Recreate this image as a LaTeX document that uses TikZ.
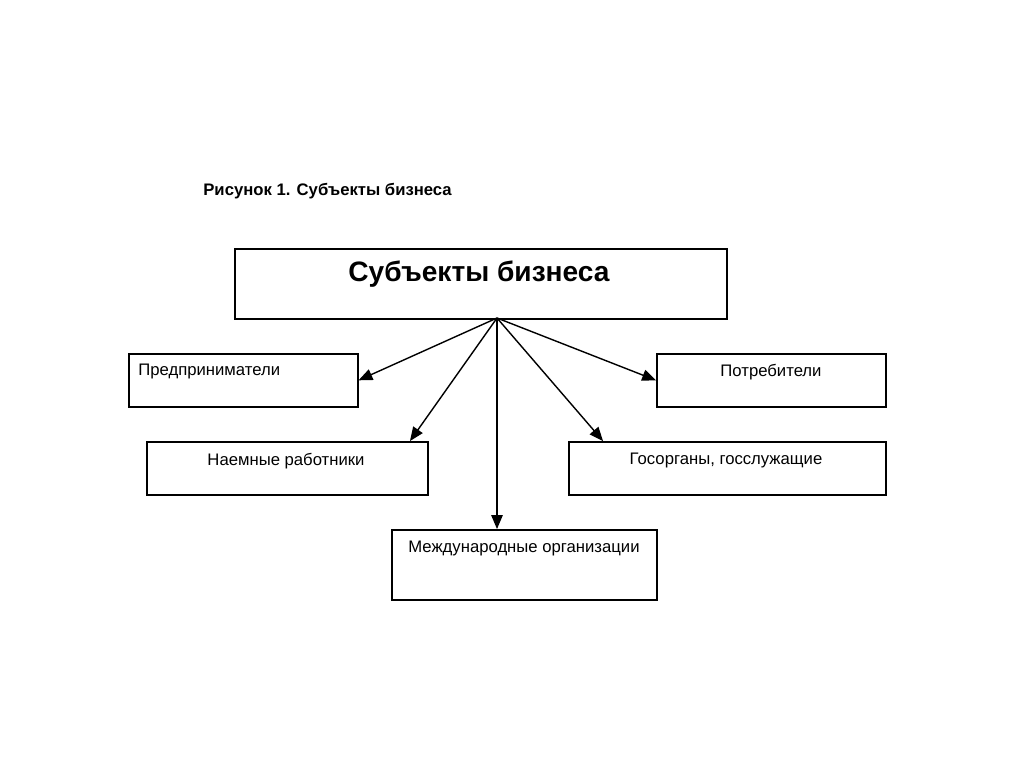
\documentclass[tikz,border=0pt]{standalone}
\usepackage{fontspec}
\setmainfont{Liberation Sans}
\usetikzlibrary{arrows}

\tikzset{
  box/.style={draw=black, line width=0.9pt, rectangle, inner sep=0pt},
  lbl/.style={font=\fontsize{9.5}{11}\selectfont, inner sep=0pt, anchor=north},
  link/.style={line width=0.8pt, -triangle 45}
}

\begin{document}
\begin{tikzpicture}[x=0.02cm, y=-0.02cm]
  \useasboundingbox[fill=white] (0,0) rectangle (1024,768);

  % caption
  \node[font=\bfseries\fontsize{9.5}{11}\selectfont, anchor=west, inner sep=0pt] (caption) at (203,191) {Рисунок 1. Субъекты бизнеса};

  % boxes
  \node[box, anchor=north west, minimum width=492*0.02cm, minimum height=70*0.02cm] (main) at (234,248) {};
  \node[box, anchor=north west, minimum width=229*0.02cm, minimum height=53*0.02cm] (pred) at (128,353) {};
  \node[box, anchor=north west, minimum width=229*0.02cm, minimum height=53*0.02cm] (potr) at (656,353) {};
  \node[box, anchor=north west, minimum width=281*0.02cm, minimum height=53*0.02cm] (naem) at (146,441) {};
  \node[box, anchor=north west, minimum width=317*0.02cm, minimum height=53*0.02cm] (gos) at (568,441) {};
  \node[box, anchor=north west, minimum width=265*0.02cm, minimum height=70*0.02cm] (mezh) at (391,529) {};

  % texts
  \node[lbl, font=\bfseries\fontsize{16}{19}\selectfont] (mainT) at (479,261) {Субъекты бизнеса};
  \node[lbl, anchor=north west] (predT) at (138,364) {Предприниматели};
  \node[lbl] (potrT) at (771,364) {Потребители};
  \node[lbl] (naemT) at (286,453) {Наемные работники};
  \node[lbl] (gosT) at (726,453) {Госорганы, госслужащие};
  \node[lbl] (mezhT) at (524,541) {Международные организации};

  % connectors
  \coordinate (hub) at (497,318);
  \draw[link] (hub) -- (pred.east);
  \draw[link] (hub) -- (naem.north -| 410,0);
  \draw[link] (hub) -- (hub |- mezh.north);
  \draw[link] (hub) -- (gos.north -| 603,0);
  \draw[link] (hub) -- (potr.west);
\end{tikzpicture}
\end{document}
